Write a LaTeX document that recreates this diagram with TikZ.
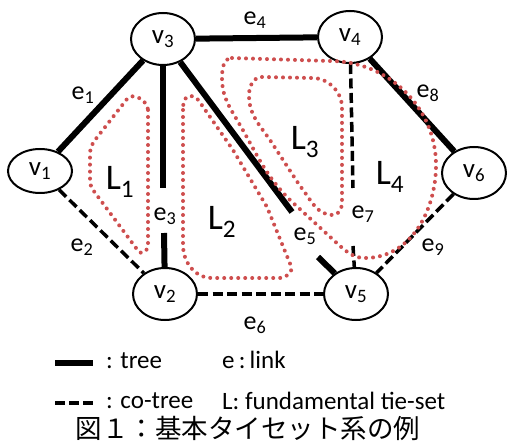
\documentclass[tikz,border=0pt]{standalone}
\usepackage{fontspec}
\setmainfont{Carlito}
\newfontfamily\jpfont{Noto Sans CJK JP}
\usetikzlibrary{shapes.geometric}
\definecolor{tiesetred}{RGB}{206,78,78}

\begin{document}
\begin{tikzpicture}[x=1pt,y=-1pt]

                \tikzset{vertex/.style = {shape=ellipse,draw,line width=2pt,minimum width=64pt,minimum height=52pt,inner sep=0pt,font=\fontsize{27}{30}\selectfont}}
                \tikzset{tree/.style = {line width=6pt}}
                \tikzset{cotree/.style = {line width=3.5pt,dash pattern=on 10pt off 4.5pt}}
                \tikzset{tieset/.style = {draw=tiesetred,line width=4pt,line cap=round,dash pattern=on 0pt off 7pt}}
                \tikzset{elabel/.style = {inner sep=1pt,font=\fontsize{26}{28}\selectfont}}
                \tikzset{setlabel/.style = {inner sep=1pt,font=\fontsize{36}{40}\selectfont}}
                \tikzset{legend/.style = {anchor=west,inner sep=0pt,font=\fontsize{25}{28}\selectfont}}

                \useasboundingbox (0,0) rectangle (507,441);

                \node[vertex,minimum height=44pt] (v1) at (40, 171) {v\textsubscript{1}};
                \node[vertex] (v2) at (165, 294) {v\textsubscript{2}};
                \node[vertex] (v3) at (163, 39) {v\textsubscript{3}};
                \node[vertex] (v4) at (350, 37) {v\textsubscript{4}};
                \node[vertex] (v5) at (356, 294) {v\textsubscript{5}};
                \node[vertex] (v6) at (474, 173) {v\textsubscript{6}};

                \coordinate (e3top) at (163, 188);
                \coordinate (e3bot) at (164, 233);
                \coordinate (e5top) at (292, 212);
                \coordinate (e5bot) at (318, 257);
                \coordinate (e7top) at (353, 188);
                \coordinate (e7bot) at (353, 246);

                \draw[tree] (v3) to (v1);
                \draw[tree] (v3) to (v4);
                \draw[tree] (v4) to (v6);
                \draw[tree] (v3) to (e3top);
                \draw[tree] (e3bot) to (v2);
                \draw[tree] (v3) to (e5top);
                \draw[tree] (e5bot) to (v5);

                \draw[cotree] (v1) to (v2);
                \draw[cotree] (v2) to (v5);
                \draw[cotree] (v6) to (v5);
                \draw[cotree] (v4) to (e7top);
                \draw[cotree] (e7bot) to (v5);

                \node[elabel] (e1) at (83, 95) {e\textsubscript{1}};
                \node[elabel] (e2) at (82, 247) {e\textsubscript{2}};
                \node[elabel] (e3) at (165, 216) {e\textsubscript{3}};
                \node[elabel] (e4) at (255, 20) {e\textsubscript{4}};
                \node[elabel] (e5) at (305, 236) {e\textsubscript{5}};
                \node[elabel] (e6) at (255, 325) {e\textsubscript{6}};
                \node[elabel] (e7) at (363, 214) {e\textsubscript{7}};
                \node[elabel] (e8) at (428, 93) {e\textsubscript{8}};
                \node[elabel] (e9) at (433, 247) {e\textsubscript{9}};

                \draw[tieset] (148,110) -- (148,246) to[out=-90,in=-45] (139,252) -- (93,190) to[out=125,in=-90] (90,176) -- (90,155)
                    to[out=90,in=-125] (95,140) -- (127,99) to[out=52,in=90] (148,110) -- cycle;
                \draw[tieset] (183,110) -- (183,245) to[out=-90,in=180] (212,278) -- (280,278) to[out=0,in=-70] (291,266)
                    -- (267,207) -- (233,150) -- (199,101) to[out=125,in=0] (190,96) to[out=180,in=90] (183,110) -- cycle;
                \draw[tieset] (262,77) -- (312,78) to[out=0,in=90] (342,108) -- (342,202) to[out=-90,in=0] (333,215)
                    to[out=180,in=-50] (300,186) -- (270,140) to[out=125,in=-90] (249,95) to[out=90,in=180] (262,77) -- cycle;
                \draw[tieset] (232,58) -- (330,61) to[out=0,in=90] (436,165) to[out=-90,in=0] (365,258) to[out=180,in=-40] (340,246)
                    -- (290,200) to[out=135,in=-60] (240,125) to[out=120,in=-90] (222,78) to[out=90,in=180] (232,58) -- cycle;

                \node[setlabel] (L1) at (120, 182) {L\textsubscript{1}};
                \node[setlabel] (L2) at (222, 222) {L\textsubscript{2}};
                \node[setlabel] (L3) at (305, 142) {L\textsubscript{3}};
                \node[setlabel] (L4) at (390, 177) {L\textsubscript{4}};

                \coordinate (treeA) at (55, 363);
                \coordinate (treeB) at (93, 363);
                \coordinate (cotreeA) at (55, 403);
                \coordinate (cotreeB) at (93, 403);
                \draw[tree] (treeA) to (treeB);
                \draw[cotree,dash pattern=on 10pt off 4pt] (cotreeA) to (cotreeB);
                \node[legend] (treetext) at (106, 361) {: tree};
                \node[legend] (linktext) at (222, 360) {e\,:\,link};
                \node[legend] (cotreetext) at (106, 401) {: co-tree};
                \node[legend] (settext) at (222, 401) {L: fundamental tie-set};

                \node[font=\jpfont\fontsize{26.5}{28}\selectfont,inner sep=0pt] (caption) at (248, 428) {図１：基本タイセット系の例};
            \end{tikzpicture}
\end{document}
